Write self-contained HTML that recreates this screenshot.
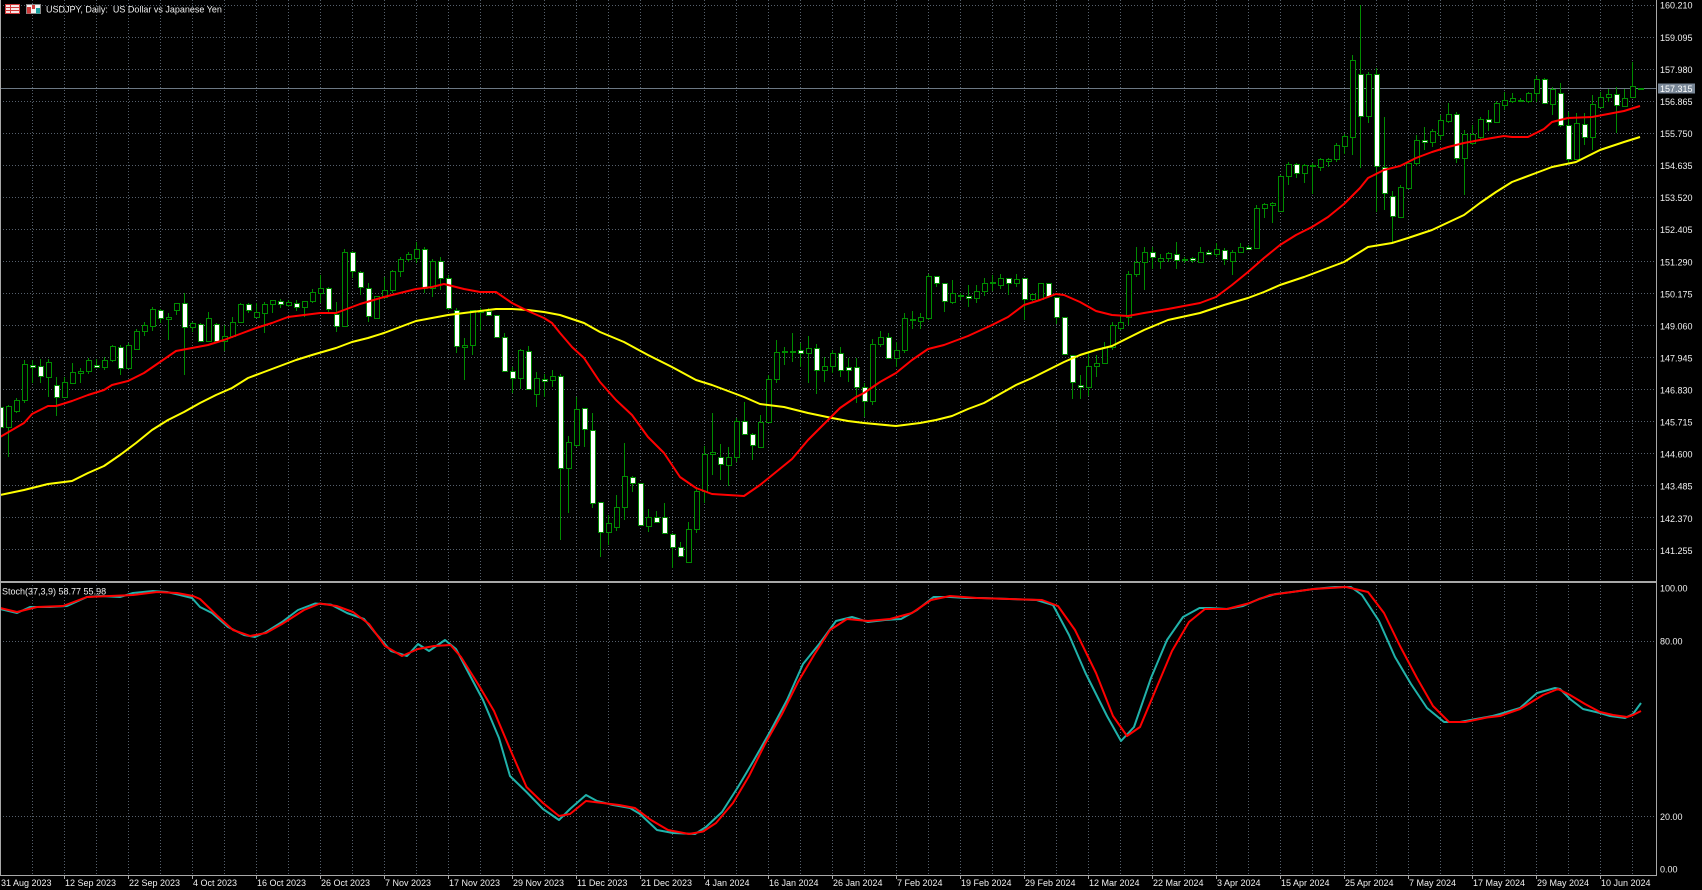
<!DOCTYPE html>
<html><head><meta charset="utf-8"><style>
html,body{margin:0;padding:0;background:#000;width:1702px;height:890px;overflow:hidden}
svg{display:block}
text{font-family:"Liberation Sans",sans-serif;font-size:9px;fill:#f0f0f0}
</style></head><body>
<svg width="1702" height="890" viewBox="0 0 1702 890" xmlns="http://www.w3.org/2000/svg">
<defs>
<clipPath id="cm"><rect x="0" y="0" width="1656" height="581"/></clipPath>
<clipPath id="cs"><rect x="0" y="583" width="1656" height="291"/></clipPath>
</defs>
<rect width="1702" height="890" fill="#000"/>
<!-- grid -->
<path stroke="#56606c" stroke-width="1" stroke-dasharray="1 2" fill="none" d="M32.5 0V875M64.5 0V875M96.5 0V875M128.5 0V875M160.5 0V875M192.5 0V875M224.5 0V875M256.5 0V875M288.5 0V875M320.5 0V875M352.5 0V875M384.5 0V875M416.5 0V875M448.5 0V875M480.5 0V875M512.5 0V875M544.5 0V875M576.5 0V875M608.5 0V875M640.5 0V875M672.5 0V875M704.5 0V875M736.5 0V875M768.5 0V875M800.5 0V875M832.5 0V875M864.5 0V875M896.5 0V875M928.5 0V875M960.5 0V875M992.5 0V875M1024.5 0V875M1056.5 0V875M1088.5 0V875M1120.5 0V875M1152.5 0V875M1184.5 0V875M1216.5 0V875M1248.5 0V875M1280.5 0V875M1312.5 0V875M1344.5 0V875M1376.5 0V875M1408.5 0V875M1440.5 0V875M1472.5 0V875M1504.5 0V875M1536.5 0V875M1568.5 0V875M1600.5 0V875M1632.5 0V875
M0 5.5H1656M0 37.5H1656M0 69.5H1656M0 101.5H1656M0 133.5H1656M0 165.5H1656M0 197.5H1656M0 229.5H1656M0 261.5H1656M0 293.5H1656M0 325.5H1656M0 357.5H1656M0 389.5H1656M0 421.5H1656M0 453.5H1656M0 485.5H1656M0 517.5H1656M0 549.5H1656M0 641.5H1656M0 816.5H1656"/>
<!-- current price line -->
<path d="M0 88.5H1656" stroke="#6c7884" stroke-width="1"/>
<g clip-path="url(#cm)">
<!-- wicks -->
<path stroke="#008c00" stroke-width="1" fill="none" d="M0.5 398V440M8.5 405V457M16.5 398V413M24.5 360V403M32.5 360V383M40.5 359V383M48.5 359V397M56.5 377V416M64.5 377V398M72.5 363V383M80.5 368V383M88.5 358V374M96.5 359V367M104.5 357V370M112.5 345V362M120.5 345V375M128.5 343V369M136.5 329V350M144.5 322V336M152.5 307V331M160.5 309V323M168.5 313V340M176.5 303V315M184.5 293V375M192.5 322V332M200.5 323V342M208.5 312V342M216.5 323V341M224.5 325V351M232.5 317V338M240.5 303V323M248.5 303V313M256.5 303V318M264.5 302V333M272.5 300V313M280.5 299V308M288.5 300V307M296.5 300V311M304.5 301V317M312.5 289V303M320.5 275V303M328.5 287V312M336.5 302V332M344.5 249V326M352.5 251V278M360.5 271V295M368.5 283V322M376.5 296V319M384.5 277V299M392.5 270V293M400.5 257V277M408.5 252V262M416.5 242V263M424.5 247V293M432.5 259V297M440.5 257V290M448.5 275V310M456.5 308V353M464.5 338V380M472.5 310V355M480.5 308V330M488.5 308V316M496.5 315V337M504.5 333V371M512.5 367V393M520.5 349V389M528.5 346V390M536.5 372V407M544.5 374V397M552.5 370V387M560.5 374V540M568.5 436V513M576.5 397V447M584.5 408V447M592.5 413V508M600.5 502V557M608.5 515V545M616.5 495V531M624.5 443V520M632.5 476V492M640.5 483V526M648.5 509V532M656.5 511V523M664.5 503V533M672.5 533V568M680.5 542V557M688.5 522V562M696.5 487V533M704.5 446V503M712.5 413V475M720.5 444V480M728.5 447V486M736.5 418V462M744.5 402V435M752.5 433V460M760.5 415V447M768.5 375V423M776.5 340V383M784.5 347V365M792.5 333V362M800.5 343V367M808.5 336V383M816.5 344V394M824.5 357V382M832.5 350V373M840.5 347V377M848.5 358V382M856.5 358V403M864.5 383V417M872.5 339V405M880.5 331V347M888.5 333V358M896.5 342V367M904.5 313V353M912.5 311V329M920.5 313V329M928.5 274V320M936.5 276V287M944.5 283V312M952.5 280V304M960.5 293V300M968.5 285V307M976.5 285V303M984.5 278V296M992.5 275V291M1000.5 274V289M1008.5 278V295M1016.5 274V287M1024.5 278V320M1032.5 293V301M1040.5 283V300M1048.5 283V297M1056.5 297V324M1064.5 317V355M1072.5 355V399M1080.5 375V399M1088.5 352V396M1096.5 355V377M1104.5 342V364M1112.5 322V350M1120.5 315V330M1128.5 271V325M1136.5 247V277M1144.5 247V290M1152.5 247V269M1160.5 254V269M1168.5 252V262M1176.5 242V269M1184.5 257V263M1192.5 257V263M1200.5 247V263M1208.5 250V254M1216.5 243V257M1224.5 248V265M1232.5 250V275M1240.5 243V252M1248.5 245V249M1256.5 205V249M1264.5 203V218M1272.5 202V223M1280.5 175V212M1288.5 162V185M1296.5 163V178M1304.5 164V183M1312.5 163V194M1320.5 158V171M1328.5 158V167M1336.5 143V162M1344.5 134V154M1352.5 55V155M1360.5 5V168M1368.5 72V123M1376.5 68V212M1384.5 117V210M1392.5 191V242M1400.5 185V218M1408.5 162V189M1416.5 135V166M1424.5 127V150M1432.5 129V147M1440.5 115V140M1448.5 103V123M1456.5 112V163M1464.5 130V195M1472.5 125V145M1480.5 117V140M1488.5 110V131M1496.5 101V123M1504.5 92V110M1512.5 93V103M1520.5 98V102M1528.5 92V103M1536.5 76V102M1544.5 78V104M1552.5 87V115M1560.5 83V127M1568.5 112V163M1576.5 113V160M1584.5 113V145M1592.5 95V150M1600.5 92V107M1608.5 89V102M1616.5 87V133M1624.5 89V107M1632.5 62V97M1640.5 88V90"/>
<!-- bear (white) bodies -->
<path stroke="#008c00" stroke-width="1" fill="#ffffff" d="M-1.5 407.5h5v20h-5zM30.5 365.5h5v2h-5zM38.5 366.5h5v10h-5zM54.5 385.5h5v12h-5zM94.5 365.5h5v2h-5zM118.5 347.5h5v21h-5zM158.5 310.5h5v8h-5zM182.5 303.5h5v24h-5zM198.5 324.5h5v17h-5zM214.5 324.5h5v17h-5zM246.5 304.5h5v6h-5zM278.5 301.5h5v3h-5zM294.5 303.5h5v4h-5zM326.5 288.5h5v21h-5zM334.5 314.5h5v12h-5zM350.5 252.5h5v19h-5zM358.5 272.5h5v15h-5zM366.5 288.5h5v28h-5zM422.5 249.5h5v39h-5zM438.5 261.5h5v17h-5zM446.5 278.5h5v30h-5zM454.5 310.5h5v36h-5zM486.5 311.5h5v4h-5zM494.5 315.5h5v22h-5zM502.5 337.5h5v34h-5zM510.5 371.5h5v7h-5zM526.5 351.5h5v38h-5zM542.5 379.5h5v2h-5zM558.5 376.5h5v92h-5zM582.5 408.5h5v21h-5zM590.5 430.5h5v73h-5zM598.5 502.5h5v30h-5zM630.5 477.5h5v6h-5zM638.5 483.5h5v42h-5zM654.5 517.5h5v5h-5zM662.5 517.5h5v16h-5zM670.5 534.5h5v13h-5zM678.5 547.5h5v9h-5zM718.5 457.5h5v7h-5zM742.5 421.5h5v13h-5zM750.5 434.5h5v11h-5zM798.5 350.5h5v3h-5zM814.5 348.5h5v22h-5zM838.5 353.5h5v17h-5zM846.5 367.5h5v3h-5zM854.5 367.5h5v20h-5zM862.5 387.5h5v14h-5zM886.5 337.5h5v21h-5zM934.5 276.5h5v7h-5zM942.5 283.5h5v18h-5zM966.5 296.5h5v2h-5zM1006.5 278.5h5v5h-5zM1022.5 278.5h5v21h-5zM1046.5 283.5h5v13h-5zM1054.5 297.5h5v20h-5zM1062.5 317.5h5v37h-5zM1070.5 355.5h5v27h-5zM1078.5 385.5h5v2h-5zM1150.5 252.5h5v5h-5zM1174.5 254.5h5v6h-5zM1190.5 258.5h5v2h-5zM1206.5 252.5h5v2h-5zM1222.5 250.5h5v9h-5zM1246.5 247.5h5v2h-5zM1294.5 164.5h5v9h-5zM1358.5 74.5h5v42h-5zM1374.5 74.5h5v92h-5zM1382.5 167.5h5v26h-5zM1390.5 196.5h5v20h-5zM1422.5 140.5h5v2h-5zM1454.5 114.5h5v44h-5zM1486.5 119.5h5v3h-5zM1518.5 100.5h5v1h-5zM1542.5 79.5h5v24h-5zM1558.5 93.5h5v32h-5zM1566.5 125.5h5v34h-5zM1582.5 124.5h5v13h-5zM1614.5 94.5h5v11h-5z"/>
<!-- bull (black) bodies -->
<path stroke="#008c00" stroke-width="1" fill="#000000" d="M6.5 406.5h5v21h-5zM14.5 400.5h5v11h-5zM22.5 364.5h5v36h-5zM46.5 362.5h5v15h-5zM62.5 382.5h5v15h-5zM70.5 372.5h5v11h-5zM78.5 371.5h5v2h-5zM86.5 360.5h5v11h-5zM102.5 360.5h5v7h-5zM110.5 346.5h5v14h-5zM126.5 345.5h5v23h-5zM134.5 331.5h5v18h-5zM142.5 325.5h5v6h-5zM150.5 309.5h5v17h-5zM166.5 317.5h5v2h-5zM174.5 303.5h5v7h-5zM190.5 323.5h5v4h-5zM206.5 318.5h5v23h-5zM222.5 336.5h5v5h-5zM230.5 322.5h5v14h-5zM238.5 304.5h5v18h-5zM254.5 312.5h5v5h-5zM262.5 304.5h5v9h-5zM270.5 300.5h5v4h-5zM286.5 302.5h5v3h-5zM302.5 301.5h5v6h-5zM310.5 292.5h5v9h-5zM318.5 288.5h5v5h-5zM342.5 252.5h5v74h-5zM374.5 296.5h5v22h-5zM382.5 290.5h5v7h-5zM390.5 271.5h5v19h-5zM398.5 259.5h5v12h-5zM406.5 254.5h5v5h-5zM414.5 249.5h5v9h-5zM430.5 261.5h5v27h-5zM462.5 345.5h5v2h-5zM470.5 310.5h5v35h-5zM478.5 311.5h5v1h-5zM518.5 350.5h5v28h-5zM534.5 378.5h5v16h-5zM550.5 376.5h5v4h-5zM566.5 442.5h5v26h-5zM574.5 409.5h5v36h-5zM606.5 523.5h5v9h-5zM614.5 507.5h5v20h-5zM622.5 476.5h5v31h-5zM646.5 517.5h5v9h-5zM686.5 529.5h5v33h-5zM694.5 491.5h5v38h-5zM702.5 454.5h5v37h-5zM710.5 452.5h5v2h-5zM726.5 457.5h5v8h-5zM734.5 421.5h5v36h-5zM758.5 422.5h5v25h-5zM766.5 379.5h5v43h-5zM774.5 352.5h5v27h-5zM782.5 351.5h5v1h-5zM790.5 351.5h5v1h-5zM806.5 348.5h5v5h-5zM822.5 366.5h5v4h-5zM830.5 353.5h5v13h-5zM870.5 344.5h5v57h-5zM878.5 337.5h5v7h-5zM894.5 350.5h5v8h-5zM902.5 318.5h5v32h-5zM910.5 319.5h5v1h-5zM918.5 317.5h5v4h-5zM926.5 276.5h5v42h-5zM950.5 293.5h5v9h-5zM958.5 295.5h5v1h-5zM974.5 291.5h5v7h-5zM982.5 283.5h5v8h-5zM990.5 282.5h5v1h-5zM998.5 278.5h5v7h-5zM1014.5 279.5h5v4h-5zM1030.5 294.5h5v5h-5zM1038.5 283.5h5v16h-5zM1086.5 366.5h5v21h-5zM1094.5 363.5h5v3h-5zM1102.5 347.5h5v16h-5zM1110.5 325.5h5v22h-5zM1118.5 322.5h5v6h-5zM1126.5 274.5h5v43h-5zM1134.5 262.5h5v12h-5zM1142.5 252.5h5v10h-5zM1158.5 258.5h5v3h-5zM1166.5 253.5h5v5h-5zM1182.5 259.5h5v1h-5zM1198.5 252.5h5v10h-5zM1214.5 249.5h5v5h-5zM1230.5 252.5h5v9h-5zM1238.5 247.5h5v5h-5zM1254.5 208.5h5v40h-5zM1262.5 204.5h5v4h-5zM1270.5 203.5h5v2h-5zM1278.5 176.5h5v35h-5zM1286.5 164.5h5v12h-5zM1302.5 165.5h5v8h-5zM1310.5 165.5h5v1h-5zM1318.5 159.5h5v8h-5zM1326.5 159.5h5v2h-5zM1334.5 145.5h5v14h-5zM1342.5 136.5h5v10h-5zM1350.5 60.5h5v77h-5zM1366.5 74.5h5v42h-5zM1398.5 187.5h5v30h-5zM1406.5 163.5h5v25h-5zM1414.5 140.5h5v23h-5zM1430.5 131.5h5v11h-5zM1438.5 120.5h5v15h-5zM1446.5 114.5h5v7h-5zM1462.5 134.5h5v24h-5zM1470.5 134.5h5v9h-5zM1478.5 119.5h5v18h-5zM1494.5 103.5h5v19h-5zM1502.5 100.5h5v5h-5zM1510.5 98.5h5v3h-5zM1526.5 93.5h5v8h-5zM1534.5 79.5h5v14h-5zM1550.5 89.5h5v15h-5zM1574.5 123.5h5v36h-5zM1590.5 104.5h5v33h-5zM1598.5 97.5h5v10h-5zM1606.5 94.5h5v3h-5zM1622.5 98.5h5v8h-5zM1630.5 86.5h5v11h-5zM1638.5 88.5h5v1h-5z"/>
<!-- yellow MA -->
<polyline fill="none" stroke="#ffff00" stroke-width="2" stroke-linejoin="round" points="0,495 24,490 48,484 72,481 88,473 104,466 120,455 136,443 152,430 168,420 184,412 200,403 216,395 232,388 248,378 264,372 280,366 296,360 312,355 336,348 352,342 368,338 384,333 400,327 416,321 432,318 448,315 464,313 480,311 496,309 512,309 528,310 544,312 560,315 584,323 600,332 624,342 648,355 672,367 696,380 712,385 728,391 744,397 760,404 784,407 808,413 832,418 848,421 864,423 896,426 920,423 936,420 952,416 968,409 984,403 1000,394 1016,385 1032,378 1048,370 1064,362 1080,355 1096,350 1112,346 1130,337 1144,330 1168,320 1200,313 1224,305 1248,298 1264,292 1280,285 1304,277 1328,268 1344,262 1368,247 1392,243 1408,238 1432,230 1464,215 1480,203 1496,192 1512,182 1536,173 1552,167 1576,162 1600,150 1624,142 1640,137"/>
<!-- red MA -->
<polyline fill="none" stroke="#ff0000" stroke-width="2" stroke-linejoin="round" points="0,437 24,423 32,414 48,406 56,406 72,401 88,395 104,390 112,385 128,381 144,373 160,362 176,351 192,348 208,345 224,340 240,334 256,328 272,323 288,317 320,313 336,313 360,304 384,297 416,289 432,287 444,284 464,289 480,292 496,292 512,303 528,311 544,318 552,323 560,333 572,347 584,358 600,382 616,400 632,415 648,437 664,453 680,477 696,488 712,494 728,495 744,496 760,485 776,472 792,459 808,440 824,424 840,408 856,397 864,393 880,382 896,373 912,360 928,349 944,345 968,336 992,325 1008,317 1024,305 1040,300 1056,294 1064,295 1080,302 1096,311 1112,315 1128,316 1144,313 1168,309 1200,303 1216,297 1232,285 1248,272 1264,258 1280,245 1296,235 1312,227 1328,217 1344,204 1360,188 1368,178 1384,170 1400,166 1416,158 1432,152 1448,147 1464,143 1480,140 1504,136 1512,137 1528,137 1544,129 1552,122 1568,118 1592,117 1608,114 1624,111 1640,106"/>
</g>
<!-- stochastic -->
<g clip-path="url(#cs)" fill="none" stroke-width="2" stroke-linejoin="round">
<polyline stroke="#20b2aa" points="0,609 17,613 30,607 50,607 67,606 87,597 100,596 120,597 133,593 153,591 167,592 180,595 192,598 200,607 212,613 228,627 244,635 255,637 266,632 282,622 298,610 315,603.5 331,604.6 347,613 364,619 374.5,632 391,651 407,656 418,644 429,651 445,640 456,649 467,670 483,700 499,738 510,776 526.5,792 543,809 559,820 570,809 586,795 597,801 613,805 630,808 640,814 657,830 673,833 695,834 706,827 722,812 738,787 754,760 771,730 787,700 803,664 820,643 836,621 852,617 868,622 885,620 901,619 917,610 933.5,597 950,597 966,598 982,598 1009.5,599 1036.6,600 1053,605 1069,635 1085.5,673 1107,716 1121,741 1134,727 1151,678 1167,640 1183,617 1199.5,608 1210,608 1227,609 1243,606 1259,599 1275.5,594 1292,592 1313.5,589 1335,587 1351,587 1362,595 1379,621 1395,657 1411,684 1427,708 1444,722 1460,722 1476,719 1492.6,716 1500,714 1520,708 1537,693 1555,688 1560,689 1570,699 1583,709 1600,713 1610,716 1625,718 1633,714 1641,703"/>
<polyline stroke="#ff0000" points="0,608 17,612 37,607 63,606 87,597 110,596 133,595 157,592 177,593 193,596 200,599 217,615.5 233,630 250,636 266,633 282,624 304,610 320,603.5 336.5,606 353,612 369,624 385,646 402,656 418,649 434,646 450.5,645 461,657 478,684 494,711 510,749 526.5,787 543,803 559,816 570,814 586,801 602.5,803 619,805 635,808 651,820 668,830 689,834 703,831.5 716,823 733,803 749,776 765,744 782,714 798,682 814,655 830,630 847,619 868,621 890,619 912,613 931,600 950,596 977,598 1009.5,599 1042,600 1058,606 1075,630 1096,673 1113,716 1127,736 1140,727 1156,689 1172,651 1189,622 1205,609 1227,609 1248,603.5 1270,595 1292,592 1313.5,589 1346,587 1368,592 1384,613 1400,646 1417,678 1433,706 1449,722 1465,722 1487,717.5 1500,716 1520,709 1543,695 1558,689 1570,695 1585,704 1600,712 1613,715 1627,717 1633,715 1641,711"/>
</g>
<!-- axes / borders -->
<path stroke="#a8a8a8" stroke-width="1" fill="none" d="M0.5 0V875M1656.5 0V875M0 875.5H1657"/>
<rect x="0" y="581" width="1657" height="2" fill="#a8a8a8"/>
<path stroke="#a8a8a8" stroke-width="1" d="M64.5 875V879M128.5 875V879M192.5 875V879M256.5 875V879M320.5 875V879M384.5 875V879M448.5 875V879M512.5 875V879M576.5 875V879M640.5 875V879M704.5 875V879M768.5 875V879M832.5 875V879M896.5 875V879M960.5 875V879M1024.5 875V879M1088.5 875V879M1152.5 875V879M1216.5 875V879M1280.5 875V879M1344.5 875V879M1408.5 875V879M1472.5 875V879M1536.5 875V879M1600.5 875V879"/>
<!-- title icons -->
<rect x="5.5" y="4.5" width="14" height="9" fill="#f6e6e6" stroke="#d03a3a"/>
<path d="M5.5 7.5H19.5M5.5 10.5H19.5M10.5 4.5V13.5" stroke="#d03a3a" stroke-width="1"/>
<rect x="26.5" y="4.5" width="14" height="9" fill="#f4f4f4" stroke="#888"/>
<rect x="27" y="7" width="4" height="6.5" fill="#d03a3a"/>
<rect x="32" y="5" width="3" height="4" fill="#d03a3a"/>
<rect x="36" y="8" width="4" height="5.5" fill="#1aa0a0"/>
<!-- title -->
<text x="46" y="12.5" xml:space="preserve">USDJPY, Daily:  US Dollar vs Japanese Yen</text>
<text x="2" y="594.5">Stoch(37,3,9) 58.77 55.98</text>
<!-- price axis labels -->
<g>
<text x="1660" y="8.6">160.210</text>
<text x="1660" y="40.9">159.095</text>
<text x="1660" y="72.9">157.980</text>
<text x="1660" y="105">156.865</text>
<text x="1660" y="137">155.750</text>
<text x="1660" y="169.1">154.635</text>
<text x="1660" y="201.2">153.520</text>
<text x="1660" y="233.2">152.405</text>
<text x="1660" y="265.3">151.290</text>
<text x="1660" y="297.3">150.175</text>
<text x="1660" y="329.4">149.060</text>
<text x="1660" y="361.5">147.945</text>
<text x="1660" y="393.5">146.830</text>
<text x="1660" y="425.6">145.715</text>
<text x="1660" y="457.6">144.600</text>
<text x="1660" y="489.7">143.485</text>
<text x="1660" y="521.8">142.370</text>
<text x="1660" y="553.8">141.255</text>
</g>
<rect x="1658" y="83.5" width="37" height="10" fill="#7a8898"/>
<text x="1660" y="91.8" style="fill:#ffffff">157.315</text>
<!-- stoch axis labels -->
<text x="1660" y="591.6">100.00</text>
<text x="1660" y="644.6">80.00</text>
<text x="1660" y="820">20.00</text>
<text x="1660" y="872.5">0.00</text>
<!-- date labels -->
<g>
<text x="1" y="886">31 Aug 2023</text>
<text x="65" y="886">12 Sep 2023</text>
<text x="129" y="886">22 Sep 2023</text>
<text x="193" y="886">4 Oct 2023</text>
<text x="257" y="886">16 Oct 2023</text>
<text x="321" y="886">26 Oct 2023</text>
<text x="385" y="886">7 Nov 2023</text>
<text x="449" y="886">17 Nov 2023</text>
<text x="513" y="886">29 Nov 2023</text>
<text x="577" y="886">11 Dec 2023</text>
<text x="641" y="886">21 Dec 2023</text>
<text x="705" y="886">4 Jan 2024</text>
<text x="769" y="886">16 Jan 2024</text>
<text x="833" y="886">26 Jan 2024</text>
<text x="897" y="886">7 Feb 2024</text>
<text x="961" y="886">19 Feb 2024</text>
<text x="1025" y="886">29 Feb 2024</text>
<text x="1089" y="886">12 Mar 2024</text>
<text x="1153" y="886">22 Mar 2024</text>
<text x="1217" y="886">3 Apr 2024</text>
<text x="1281" y="886">15 Apr 2024</text>
<text x="1345" y="886">25 Apr 2024</text>
<text x="1409" y="886">7 May 2024</text>
<text x="1473" y="886">17 May 2024</text>
<text x="1537" y="886">29 May 2024</text>
<text x="1601" y="886">10 Jun 2024</text>
</g>
</svg>
</body></html>
